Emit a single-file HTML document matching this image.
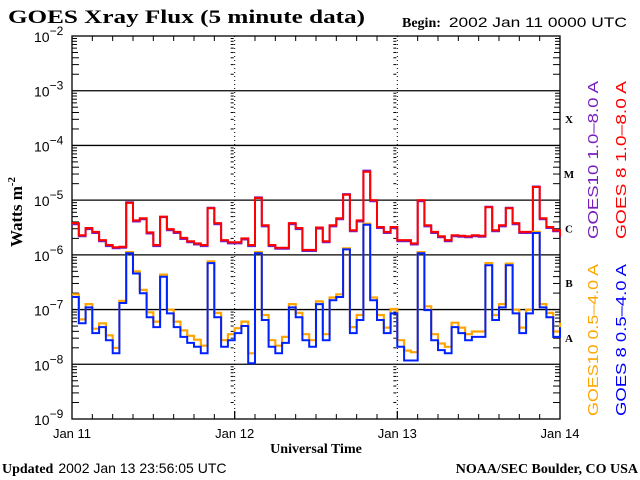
<!DOCTYPE html>
<html><head><meta charset="utf-8">
<style>
html,body{margin:0;padding:0;background:#fff;}
svg{display:block;}
.serif{font-family:"Liberation Serif",serif;font-weight:bold;}
.sans{font-family:"Liberation Sans",sans-serif;}
</style></head>
<body>
<svg id="chart" width="640" height="480" viewBox="0 0 640 480">
<text x="8" y="23" class="serif" font-size="19" textLength="357" lengthAdjust="spacingAndGlyphs">GOES Xray Flux (5 minute data)</text>
<text x="402" y="27" font-size="14"><tspan class="serif">Begin:</tspan><tspan class="sans" dx="8" textLength="178" lengthAdjust="spacingAndGlyphs">2002 Jan 11 0000 UTC</tspan></text>
<text transform="translate(22,212) rotate(-90)" text-anchor="middle" class="serif" font-size="17">Watts m<tspan dy="-7" font-size="11">-2</tspan></text>
<text x="316" y="453" text-anchor="middle" class="serif" font-size="14">Universal Time</text>
<text x="2" y="473" font-size="14"><tspan class="serif">Updated</tspan><tspan class="sans" dx="5">2002 Jan 13 23:56:05 UTC</tspan></text>
<text x="638" y="473" text-anchor="end" class="serif" font-size="14">NOAA/SEC Boulder, CO USA</text>
<text transform="translate(598,239) rotate(-90)" class="sans" font-size="15" fill="#7a1fbf" textLength="158" lengthAdjust="spacingAndGlyphs">GOES10 1.0–8.0 A</text>
<text transform="translate(626,239) rotate(-90)" class="sans" font-size="15" fill="#ff0000" textLength="158" lengthAdjust="spacingAndGlyphs">GOES 8 1.0–8.0 A</text>
<text transform="translate(598,416) rotate(-90)" class="sans" font-size="15" fill="#ffa500" textLength="152" lengthAdjust="spacingAndGlyphs">GOES10 0.5–4.0 A</text>
<text transform="translate(626,416) rotate(-90)" class="sans" font-size="15" fill="#0000ff" textLength="152" lengthAdjust="spacingAndGlyphs">GOES 8 0.5–4.0 A</text>
<g id="g"></g>
</svg>
<script>
// exponents (log10 W/m^2), hourly from Jan 11 00 UT to Jan 14 00 UT
const hours = [0,1,2,3,4,5,6,7,8,9,10,11,12,13,14,15,16,17,18,19,20,21,22,23,24,25,26,27,28,29,30,31,32,33,34,35,36,37,38,39,40,41,42,43,44,45,46,47,48,49,50,51,52,53,54,55,56,57,58,59,60,61,62,63,64,65,66,67,68,69,70,71,72];
const goes8Long = [-5.42,-5.64,-5.51,-5.58,-5.73,-5.82,-5.86,-5.85,-5.05,-5.37,-5.33,-5.59,-5.82,-5.3,-5.53,-5.58,-5.69,-5.75,-5.79,-5.82,-5.15,-5.42,-5.73,-5.77,-5.77,-5.7,-5.82,-4.96,-5.46,-5.82,-5.87,-5.87,-5.42,-5.51,-5.91,-5.91,-5.5,-5.75,-5.46,-5.33,-4.9,-5.55,-5.37,-4.48,-5.0,-5.49,-5.58,-5.49,-5.73,-5.73,-5.79,-5.0,-5.46,-5.58,-5.66,-5.73,-5.64,-5.65,-5.66,-5.64,-5.65,-5.13,-5.55,-5.46,-5.15,-5.42,-5.58,-5.58,-4.76,-5.33,-5.49,-5.55,-5.66];
const goes10Long = [-5.44,-5.66,-5.53,-5.6,-5.75,-5.84,-5.88,-5.87,-5.04,-5.39,-5.35,-5.61,-5.84,-5.31,-5.55,-5.6,-5.71,-5.77,-5.81,-5.84,-5.14,-5.44,-5.75,-5.79,-5.79,-5.72,-5.84,-4.95,-5.48,-5.84,-5.89,-5.89,-5.44,-5.53,-5.93,-5.93,-5.52,-5.77,-5.48,-5.35,-4.89,-5.57,-5.39,-4.46,-5.02,-5.51,-5.6,-5.51,-5.75,-5.75,-5.81,-5.02,-5.48,-5.6,-5.68,-5.75,-5.66,-5.67,-5.68,-5.66,-5.67,-5.12,-5.57,-5.48,-5.14,-5.44,-5.6,-5.6,-4.75,-5.35,-5.51,-5.57,-5.68];
const goes8Short = [-6.77,-7.25,-6.96,-7.43,-7.32,-7.56,-7.80,-6.88,-5.97,-6.34,-6.70,-7.14,-7.32,-6.4,-7.07,-7.32,-7.50,-7.61,-7.68,-7.80,-6.15,-7.14,-7.68,-7.56,-7.43,-7.3,-7.98,-5.97,-7.19,-7.68,-7.80,-7.61,-6.96,-7.14,-7.56,-7.68,-6.9,-7.56,-6.83,-6.77,-5.9,-7.43,-7.19,-5.45,-6.83,-7.19,-7.43,-7.07,-7.68,-7.93,-7.93,-5.97,-7.01,-7.56,-7.74,-7.80,-7.32,-7.43,-7.56,-7.50,-7.50,-6.19,-7.19,-6.96,-6.19,-7.07,-7.43,-7.07,-5.60,-6.96,-7.14,-7.50,-7.32];
const goes10Short = [-6.72,-7.18,-6.9,-7.35,-7.25,-7.47,-7.7,-6.84,-5.95,-6.3,-6.64,-7.05,-7.22,-6.36,-7.0,-7.22,-7.38,-7.48,-7.55,-7.66,-6.12,-7.06,-7.56,-7.45,-7.34,-7.22,-7.8,-5.95,-7.1,-7.56,-7.66,-7.5,-6.9,-7.06,-7.45,-7.56,-6.85,-7.45,-6.78,-6.72,-5.88,-7.32,-7.1,-5.43,-6.78,-7.1,-7.33,-6.99,-7.56,-7.75,-7.78,-5.95,-6.94,-7.45,-7.62,-7.68,-7.24,-7.33,-7.45,-7.4,-7.4,-6.15,-7.1,-6.9,-6.16,-7.0,-7.33,-7.0,-5.58,-6.9,-7.06,-7.4,-7.24];
const yTickExps = [-2,-3,-4,-5,-6,-7,-8,-9];
const dayLabels = ["Jan 11","Jan 12","Jan 13","Jan 14"];
const classLetters = ["X","M","C","B","A"];

const L=72,R=560,T=36,B=419;
const NS="http://www.w3.org/2000/svg";
const g=document.getElementById('g');
function xs(h){return L+(R-L)*h/72;}
function ys(e){return T+(B-T)*(-2-e)/7;}
function mk(tag,attrs,parent){const el=document.createElementNS(NS,tag);for(const k in attrs)el.setAttribute(k,attrs[k]);(parent||g).appendChild(el);return el;}

for(let i=1;i<yTickExps.length-1;i++){
  const l=mk('line',{x1:L,x2:R,y1:ys(yTickExps[i]),y2:ys(yTickExps[i]),stroke:'#000','stroke-width':1.3});
  
  
}
const tickXs=[L,xs(24),xs(48),R];
for(let d=0;d<7;d++){
  for(let m=2;m<=9;m++){
    const y=ys(yTickExps[d]-1+Math.log10(m));
    const len=(m===5)?6:(m>5?5:7);
    tickXs.forEach((x,i)=>{
      if(i===0) mk('line',{x1:L,x2:L+len,y1:y,y2:y,stroke:'#000'});
      else if(i===3) mk('line',{x1:R-len,x2:R,y1:y,y2:y,stroke:'#000'});
      else {mk('line',{x1:x-4,x2:x-1,y1:y,y2:y,stroke:'#000'});}
    });
  }
}
for(let h=3;h<72;h+=3){
  if(h%24===0)continue;
  mk('line',{x1:xs(h),x2:xs(h),y1:B,y2:B-5,stroke:'#000'});
  mk('line',{x1:xs(h),x2:xs(h),y1:T,y2:T+5,stroke:'#000'});
}
[24,48].forEach(h=>{
  const l=mk('line',{x1:xs(h),x2:xs(h),y1:T,y2:B,stroke:'#000','stroke-width':1,'stroke-dasharray':'1,3'});
  
  
  mk('line',{x1:xs(h),x2:xs(h),y1:B,y2:B-8,stroke:'#000','stroke-width':1.3});
});
const fr=mk('rect',{x:L,y:T,width:R-L,height:B-T,fill:'none',stroke:'#000','stroke-width':1.3});


yTickExps.forEach(e=>{
  const t=mk('text',{x:34,y:ys(e)+6,'font-family':'Liberation Sans, sans-serif','font-size':14});
  
  
  t.textContent='10';
  const s=mk('tspan',{dy:-7,'font-size':12},t);s.textContent='\u2212'+(-e);
});
dayLabels.forEach((d,i)=>{
  const t=mk('text',{x:xs(i*24),y:438,'text-anchor':'middle','font-family':'Liberation Sans, sans-serif','font-size':13});
  
  
  t.textContent=d;
});
classLetters.forEach((c,i)=>{
  const t=mk('text',{x:569,y:ys(-3.5-i)+5,'text-anchor':'middle','font-family':'Liberation Serif, serif','font-weight':'bold','font-size':11});
  
  
  t.textContent=c;
});
function series(vals,color,name,w){
  let d='';
  vals.forEach((v,i)=>{
    const x=xs(hours[i]),y=ys(v);
    if(i===0) d+='M'+x.toFixed(1)+','+y.toFixed(1);
    else d+='H'+x.toFixed(1)+'V'+y.toFixed(1);
  });
  const p=mk('path',{d:d,fill:'none',stroke:color,'stroke-width':w});
  
  
}
series(goes10Long,'#7a1fbf','series-goes10-long',2);
series(goes8Long,'#ff0000','series-goes8-long',2);
series(goes10Short,'#ffa500','series-goes10-short',2.2);
series(goes8Short,'#0022ff','series-goes8-short',2);
</script>
</body></html>
